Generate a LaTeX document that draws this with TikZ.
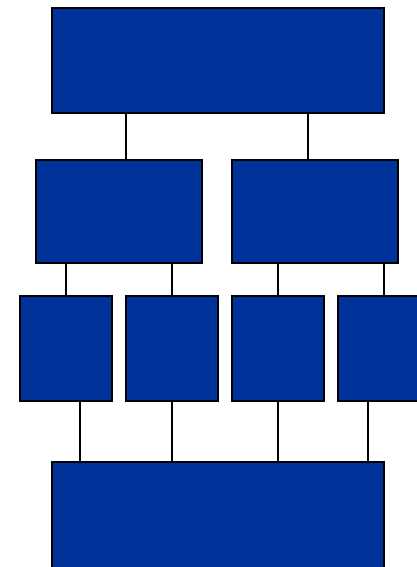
\documentclass[tikz,border=0pt]{standalone}
\definecolor{boxblue}{HTML}{003399}
\begin{document}
\begin{tikzpicture}[x=1pt,y=-1pt,
  box/.style={draw=black,fill=boxblue,line width=1.2pt,anchor=north west,inner sep=0pt,outer sep=0pt},
  link/.style={draw=black,line width=1.2pt}]
\useasboundingbox (0,0) rectangle (417,567);
\clip (0,0) rectangle (417,567);
\node[box,minimum width=332pt,minimum height=105pt] (top) at (52,8) {};
\node[box,minimum width=166pt,minimum height=103pt] (ml) at (36,160) {};
\node[box,minimum width=166pt,minimum height=103pt] (mr) at (232,160) {};
\node[box,minimum width=92pt,minimum height=105pt] (s1) at (20,296) {};
\node[box,minimum width=92pt,minimum height=105pt] (s2) at (126,296) {};
\node[box,minimum width=92pt,minimum height=105pt] (s3) at (232,296) {};
\node[box,minimum width=92pt,minimum height=105pt] (s4) at (338,296) {};
\node[box,minimum width=332pt,minimum height=140pt] (bot) at (52,462) {};
\coordinate (c126) at (126,0);
\coordinate (c308) at (308,0);
\coordinate (c66) at (66,0);
\coordinate (c172) at (172,0);
\coordinate (c278) at (278,0);
\coordinate (c384) at (384,0);
\coordinate (c80) at (80,0);
\coordinate (c368) at (368,0);
\draw[link] (top.south -| c126) -- (ml.north -| c126);
\draw[link] (top.south -| c308) -- (mr.north -| c308);
\draw[link] (ml.south -| c66) -- (s1.north -| c66);
\draw[link] (ml.south -| c172) -- (s2.north -| c172);
\draw[link] (mr.south -| c278) -- (s3.north -| c278);
\draw[link] (mr.south -| c384) -- (s4.north -| c384);
\draw[link] (s1.south -| c80) -- (bot.north -| c80);
\draw[link] (s2.south -| c172) -- (bot.north -| c172);
\draw[link] (s3.south -| c278) -- (bot.north -| c278);
\draw[link] (s4.south -| c368) -- (bot.north -| c368);
\end{tikzpicture}
\end{document}
